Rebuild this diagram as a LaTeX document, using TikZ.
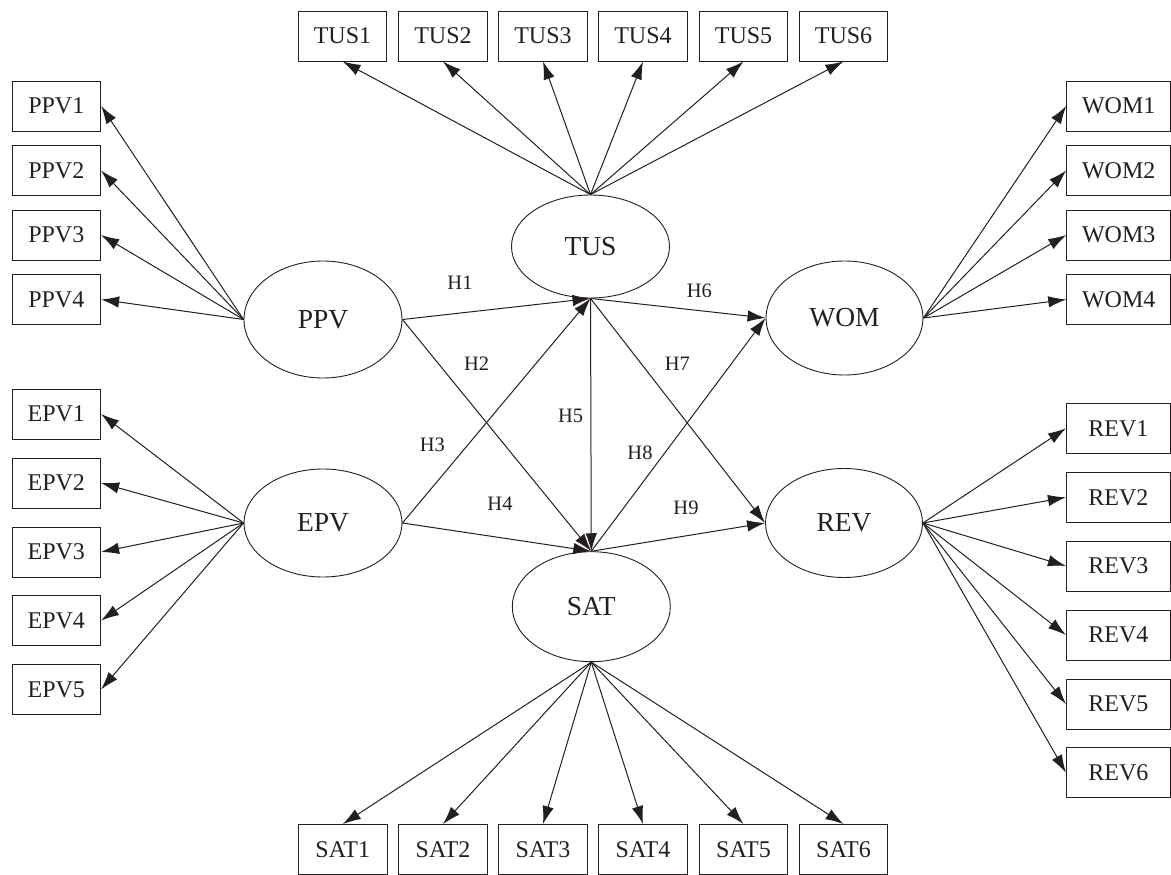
\documentclass[tikz,border=0pt]{standalone}
\usepackage{fontspec}
\setmainfont{Liberation Serif}
\usetikzlibrary{shapes.geometric,arrows.meta}
\definecolor{ink}{HTML}{231F20}
\tikzset{
  obs/.style={draw=ink, line width=0.9pt, minimum width=88.7pt, minimum height=50pt, inner sep=0pt, font=\fontsize{24}{25}\selectfont, text=ink},
  obsw/.style={obs, minimum width=104pt},
  lat/.style={draw=ink, ellipse, line width=0.9pt, inner sep=0pt, font=\fontsize{27.5}{28}\selectfont, text=ink},
  arr/.style={draw=ink, line width=1pt, -{Latex[length=18pt,width=11.5pt]}},
  hyp/.style={font=\fontsize{20.5}{21}\selectfont, text=ink, inner sep=0pt}
}
\begin{document}
\begin{tikzpicture}[x=1pt,y=-1pt]
\useasboundingbox (0,0) rectangle (1171,875);
% latent variables
\node[lat, minimum width=158pt, minimum height=103pt] (TUS) at (590.5,246.5) {TUS};
\node[lat, minimum width=158pt, minimum height=117pt] (PPV) at (323,319.5) {PPV};
\node[lat, minimum width=158pt, minimum height=108pt] (EPV) at (323,523) {EPV};
\node[lat, minimum width=158pt, minimum height=110pt] (SAT) at (591.3,606.7) {SAT};
\node[lat, minimum width=157pt, minimum height=114pt] (WOM) at (844.5,318) {WOM};
\node[lat, minimum width=157pt, minimum height=109pt] (REV) at (844,523) {REV};
% TUS indicators
\foreach \i/\x in {1/342.5,2/443,3/543,4/643,5/743.5,6/843.5}{
  \node[obs] (TUS\i) at (\x,36) {TUS\i};
  \draw[arr] (TUS.north) -- (TUS\i.south);
}
% SAT indicators
\foreach \i/\x in {1/342.8,2/443,3/543,4/643,5/743.5,6/843.5}{
  \node[obs] (SAT\i) at (\x,849.5) {SAT\i};
  \draw[arr] (SAT.south) -- (SAT\i.north);
}
% PPV indicators
\foreach \i/\y in {1/106,2/170.5,3/235,4/299.5}{
  \node[obs] (PPV\i) at (56.3,\y) {PPV\i};
  \draw[arr] (PPV.west) -- (PPV\i.east);
}
% EPV indicators
\foreach \i/\y in {1/414,2/483,3/552,4/620.5,5/689.5}{
  \node[obs] (EPV\i) at (56.3,\y) {EPV\i};
  \draw[arr] (EPV.west) -- (EPV\i.east);
}
% WOM indicators
\foreach \i/\y in {1/106,2/170.5,3/235,4/299.5}{
  \node[obsw] (WOM\i) at (1118.7,\y) {WOM\i};
  \draw[arr] (WOM.east) -- (WOM\i.west);
}
% REV indicators
\foreach \i/\y in {1/428.3,2/497.3,3/566,4/635,5/704,6/772.7}{
  \node[obsw] (REV\i) at (1118.4,\y) {REV\i};
  \draw[arr] (REV.east) -- (REV\i.west);
}
% structural paths
\draw[arr] (PPV.east) -- (TUS.south);
\draw[arr] (PPV.east) -- (SAT.north);
\draw[arr] (EPV.east) -- (TUS.south);
\draw[arr] (EPV.east) -- (SAT.north);
\draw[arr] (TUS.south) -- (SAT.north);
\draw[arr] (TUS.south) -- (WOM.west);
\draw[arr] (TUS.south) -- (REV.west);
\draw[arr] (SAT.north) -- (WOM.west);
\draw[arr] (SAT.north) -- (REV.west);
% hypothesis labels
\node[hyp] (h1) at (460,282.7) {H1};
\node[hyp] (h2) at (476.7,364) {H2};
\node[hyp] (h3) at (432.3,445) {H3};
\node[hyp] (h4) at (500,503.3) {H4};
\node[hyp] (h5) at (570.7,416) {H5};
\node[hyp] (h6) at (699.3,290.7) {H6};
\node[hyp] (h7) at (677.3,364) {H7};
\node[hyp] (h8) at (640,452.3) {H8};
\node[hyp] (h9) at (686,508.3) {H9};
\end{tikzpicture}
\end{document}
